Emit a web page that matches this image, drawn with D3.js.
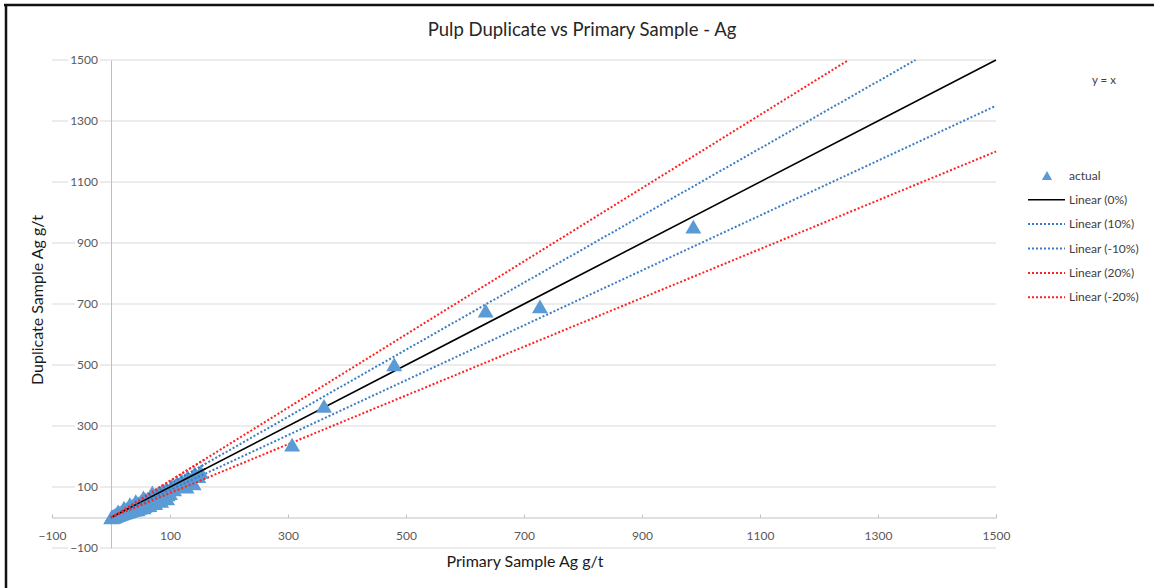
<!DOCTYPE html>
<html>
<head>
<meta charset="utf-8">
<script src="https://cdn.jsdelivr.net/npm/d3@7"></script>
<style>
  html, body { margin: 0; padding: 0; background: #fff; }
  svg { display: block; font-family: Lato, "Open Sans", sans-serif; }
</style>
</head>
<body>
<svg id="chart" width="1154" height="588"></svg>
<script>
// Pulp duplicate assays (g/t Ag) against their primary samples
const primary = [
  0.5, 1, 1.5, 2, 3, 3.5, 4, 5, 5.5, 6, 7, 8, 8.5, 9, 10, 11, 12, 13, 14, 15,
  16, 17, 18, 19, 20, 21, 22, 23, 24, 25, 26, 27, 28, 29, 30, 32, 33, 34, 35, 37,
  38, 40, 41, 43, 44, 46, 48, 50, 52, 54, 56, 58, 60, 62, 64, 66, 68, 70, 72, 75,
  78, 80, 83, 86, 90, 93, 96, 100, 103, 107, 112, 116, 120, 125, 130, 136, 142, 148, 152,
  45, 55, 65, 75, 85, 95, 128, 140,
  12, 22, 32, 42, 55, 70,
  307, 361, 480, 635, 727, 987
];
const duplicate = [
  0.4, 1.2, 1.0, 2.4, 2.2, 3.8, 3.1, 5.4, 4.0, 6.6, 5.5, 8.6, 6.4, 9.8, 7.6, 11.5, 9.0, 13.8, 10.2, 15.5,
  11.8, 17.5, 13.0, 19.8, 14.5, 21.5, 16.0, 24.0, 17.0, 26.0, 18.5, 28.5, 19.0, 30.0, 21.0, 33.0, 22.0, 36.0, 24.0, 38.0,
  25.0, 41.0, 27.0, 44.0, 30.0, 47.0, 32.0, 51.0, 34.0, 55.0, 37.0, 59.0, 40.0, 62.0, 44.0, 66.0, 47.0, 70.0, 52.0, 74.0,
  56.0, 80.0, 62.0, 86.0, 70.0, 92.0, 76.0, 80.0, 104.0, 92.0, 114.0, 103.0, 122.0, 112.0, 133.0, 124.0, 145.0, 136.0, 150.0,
  27, 33, 41, 47, 55, 63, 101, 112,
  20, 32, 44, 54, 66, 82,
  239, 366, 502, 678, 692, 954
];

// Reference lines y = k·x
const refNames  = ["Linear (0%)", "Linear (10%)", "Linear (-10%)", "Linear (20%)", "Linear (-20%)"];
const refSlopes = [1.0, 1.1, 0.9, 1.2, 0.8];

const tickValues = [-100, 100, 300, 500, 700, 900, 1100, 1300, 1500];
const xDomain = [-100, 1500];
const yDomain = [-100, 1500];

const svg = d3.select("#chart");
const W = 1154, H = 588;

const x = d3.scaleLinear().domain(xDomain).range([52, 996]);
const y = d3.scaleLinear().domain(yDomain).range([548, 60]);
const fmt = d3.format("d");

// outer frame (top and left edges)
svg.append("line").attr("x1", 4).attr("x2", W).attr("y1", 5).attr("y2", 5)
  .attr("stroke", "#111").attr("stroke-width", 2.5);
svg.append("line").attr("x1", 6).attr("x2", 6).attr("y1", 4).attr("y2", H)
  .attr("stroke", "#111").attr("stroke-width", 2.5);

// horizontal gridlines
svg.append("g").selectAll("line").data(tickValues).join("line")
  .attr("x1", x(xDomain[0])).attr("x2", x(xDomain[1]))
  .attr("y1", d => y(d)).attr("y2", d => y(d))
  .attr("stroke", "#d9d9d9").attr("stroke-width", 1);

// x axis through y = 0
const xAxis = d3.axisBottom(x).tickValues(tickValues).tickFormat(fmt).tickSize(-3).tickPadding(14);
const gx = svg.append("g").attr("transform", `translate(0,${y(0)})`).call(xAxis);
gx.select(".domain").attr("stroke", "#bfbfbf");
gx.selectAll(".tick line").attr("stroke", "#bfbfbf");
gx.selectAll(".tick text").attr("fill", "#595959").style("font-size", "12px")
  .style("font-family", "Lato, sans-serif");

// y axis through x = 0
const yAxis = d3.axisLeft(y).tickValues(tickValues).tickFormat(fmt).tickSize(0).tickPadding(13);
const gy = svg.append("g").attr("transform", `translate(${x(0)},0)`).call(yAxis);
gy.select(".domain").attr("stroke", "#bfbfbf");
gy.selectAll(".tick text").attr("fill", "#595959").style("font-size", "12px")
  .style("font-family", "Lato, sans-serif");
// white backing behind the y labels so gridlines break around them
gy.selectAll(".tick").each(function () {
  const t = d3.select(this).select("text");
  const bb = t.node().getBBox();
  d3.select(this).insert("rect", "text")
    .attr("x", bb.x - 2).attr("y", bb.y).attr("width", bb.width + 4).attr("height", bb.height)
    .attr("fill", "#fff");
});

// reference lines from the origin to the plot edge
const refColor = ["#000000", "#3a7cc4", "#3a7cc4", "#ff2020", "#ff2020"];
const refDash  = [null, "2,2", "2,2", "2,2", "2,2"];
const refWidth = [1.6, 2, 2, 2, 2];
const lines = svg.append("g");
refSlopes.forEach((k, i) => {
  const xEnd = Math.min(xDomain[1], yDomain[1] / k);
  lines.append("line")
    .attr("x1", x(0)).attr("y1", y(0))
    .attr("x2", x(xEnd)).attr("y2", y(k * xEnd))
    .attr("stroke", refColor[i]).attr("stroke-width", refWidth[i])
    .attr("stroke-dasharray", refDash[i]);
});

// sample points (triangles centred on their bounding box)
const pts = primary.map((p, i) => [p, duplicate[i]]);
const tri = d3.symbol().type(d3.symbolTriangle).size(110);
svg.append("g").selectAll("path").data(pts).join("path")
  .attr("d", tri)
  .attr("transform", d => `translate(${x(d[0])},${y(d[1]) + 2.3})`)
  .attr("fill", "#5b9bd5");

// lines stay visible across the dense cluster near the origin
refSlopes.forEach((k, i) => {
  const xEnd = 160;
  svg.append("line")
    .attr("x1", x(0)).attr("y1", y(0))
    .attr("x2", x(xEnd)).attr("y2", y(k * xEnd))
    .attr("stroke", refColor[i]).attr("stroke-width", refWidth[i])
    .attr("stroke-dasharray", refDash[i]);
});

// titles
svg.append("text").attr("x", 582).attr("y", 36).attr("text-anchor", "middle")
  .style("font-size", "18.5px").attr("fill", "#262626")
  .text("Pulp Duplicate vs Primary Sample - Ag");
svg.append("text").attr("x", 525).attr("y", 567).attr("text-anchor", "middle")
  .style("font-size", "16px").attr("fill", "#1a1a1a")
  .text("Primary Sample Ag g/t");
svg.append("text").attr("transform", "translate(43,300) rotate(-90)").attr("text-anchor", "middle")
  .style("font-size", "16px").attr("fill", "#1a1a1a")
  .text("Duplicate Sample Ag g/t");

// legend
svg.append("text").attr("x", 1104).attr("y", 84).attr("text-anchor", "middle")
  .style("font-size", "11.5px").attr("fill", "#404040").text("y = x");

const lg = svg.append("g");
lg.append("path").attr("d", d3.symbol().type(d3.symbolTriangle).size(45))
  .attr("transform", "translate(1047,177)").attr("fill", "#5b9bd5");
lg.append("text").attr("x", 1069).attr("y", 179.5).style("font-size", "12px")
  .attr("fill", "#404040").text("actual");
refNames.forEach((name, i) => {
  const yy = 199.7 + i * 24.4;
  lg.append("line").attr("x1", 1028).attr("x2", 1065).attr("y1", yy).attr("y2", yy)
    .attr("stroke", refColor[i]).attr("stroke-width", refWidth[i])
    .attr("stroke-dasharray", refDash[i]);
  lg.append("text").attr("x", 1069).attr("y", yy + 4).style("font-size", "12px")
    .attr("fill", "#404040").text(name);
});
</script>
</body>
</html>
